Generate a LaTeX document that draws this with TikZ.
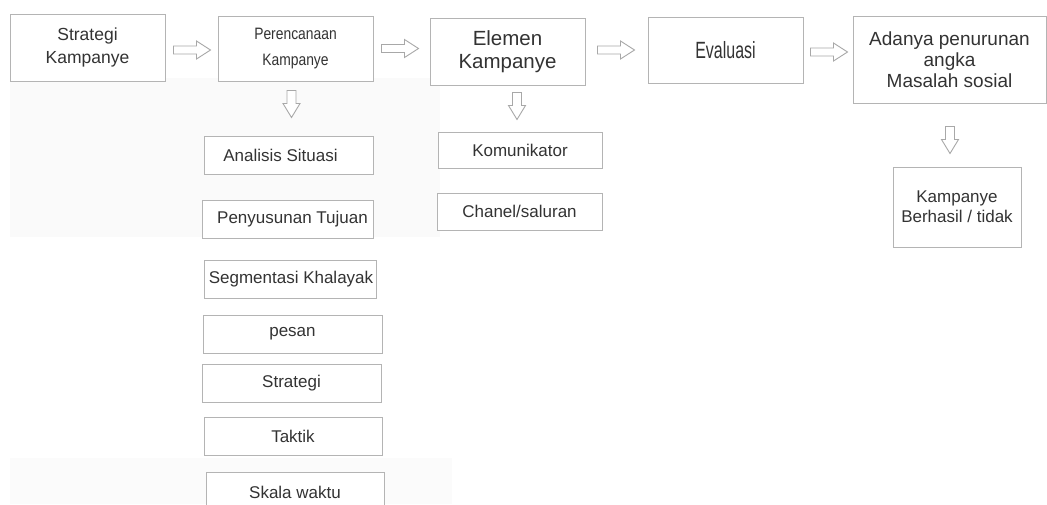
\documentclass[tikz,border=0pt]{standalone}
\usepackage{fontspec}
\setmainfont{Liberation Sans}
\newfontfamily\narrowfont{Liberation Sans}[FakeStretch=0.84]
\newfontfamily\tallfont{Liberation Sans}[FakeStretch=0.68]
\usetikzlibrary{calc}
\definecolor{boxline}{HTML}{B4B4B4}
\definecolor{arrowline}{HTML}{A8A8A8}
\definecolor{txt}{HTML}{333333}
\definecolor{bgtex}{HTML}{FAFAFA}
\definecolor{bgtexb}{HTML}{FBFBFB}
\tikzset{
  box/.style={draw=boxline, line width=1pt, fill=white, inner sep=0pt, align=center, text=txt},
  subbox/.style={box, align=none, font=\fontsize{17}{20}\selectfont},
  blockarrow/.style={draw=arrowline, line width=0.9pt, fill=white, line join=miter},
  rarrow/.pic={\path[blockarrow] (0,-4) -- (23,-4) -- (23,-9) -- (37,0) -- (23,9) -- (23,4) -- (0,4) -- cycle;},
  darrow/.pic={\path[blockarrow] (-4.5,0) -- (-4.5,13) -- (-8.5,13) -- (0,27) -- (8.5,13) -- (4.5,13) -- (4.5,0) -- cycle;},
}
\begin{document}
\begin{tikzpicture}[x=1pt, y=-1pt]
\useasboundingbox[fill=white] (0,0) rectangle (1047,504);
% faint background areas
\fill[bgtex] (10,78) rectangle (440,237);
\fill[bgtexb] (10,458) rectangle (452,504);

% top row
\node[box, minimum width=155pt, minimum height=67pt, font=\fontsize{17.5}{23}\selectfont] (s1) at (87.5,47.5) {Strategi\\Kampanye};
\node[box, minimum width=155pt, minimum height=65pt, font=\narrowfont\fontsize{16.5}{26}\selectfont] (s2) at (295.5,48.5) {Perencanaan\\Kampanye};
\node[box, minimum width=155pt, minimum height=67pt, font=\fontsize{20.5}{23.5}\selectfont] (s3) at (507.5,51.5) {Elemen\\Kampanye};
\node[box, minimum width=155pt, minimum height=66pt, font=\tallfont\fontsize{23.5}{26}\selectfont] (s4) at (725.5,50) {\raisebox{-2pt}{Evaluasi}};
\node[box, minimum width=193pt, minimum height=87pt, font=\fontsize{19}{21}\selectfont] (s5) at (949.5,59.5) {Adanya penurunan\\angka\\Masalah sosial};

% planning items
\node[subbox, minimum width=169pt, minimum height=38pt] (p1) at (288.5,155) {\kern-16pt Analisis Situasi};
\node[subbox, minimum width=171pt, minimum height=38pt] (p2) at (287.5,219) {\kern10pt Penyusunan Tujuan};
\node[subbox, minimum width=172pt, minimum height=38pt] (p3) at (290,279) {\kern2pt Segmentasi Khalayak};
\node[subbox, minimum width=179pt, minimum height=38pt] (p4) at (292.5,334) {pesan};
\node[subbox, minimum width=179pt, minimum height=38pt] (p5) at (291.5,383) {Strategi};
\node[subbox, minimum width=178pt, minimum height=38pt] (p6) at (293,436) {Taktik};
\node[subbox, minimum width=178pt, minimum height=40pt] (p7) at (295,492) {Skala waktu};

% element items
\node[subbox, minimum width=164pt, minimum height=36pt] (e1) at (520,150) {Komunikator};
\node[subbox, minimum width=165pt, minimum height=37pt] (e2) at (519.5,211.5) {Chanel/saluran};

% result
\node[box, minimum width=128pt, minimum height=80pt, font=\fontsize{17}{20}\selectfont] (r1) at (957,207) {Kampanye\\Berhasil / tidak};

% block arrows
\path ($(s1.east)+(8,2.5)$) pic {rarrow};
\path ($(s2.east)+(8,0)$) pic {rarrow};
\path ($(s3.east)+(12,-1.5)$) pic {rarrow};
\path ($(s4.east)+(7,2)$) pic {rarrow};
\path ($(s2.south)+(-4,9)$) pic {darrow};
\path ($(s3.south)+(9.5,7)$) pic {darrow};
\path ($(s5.south)+(0.5,23)$) pic {darrow};
\end{tikzpicture}
\end{document}
